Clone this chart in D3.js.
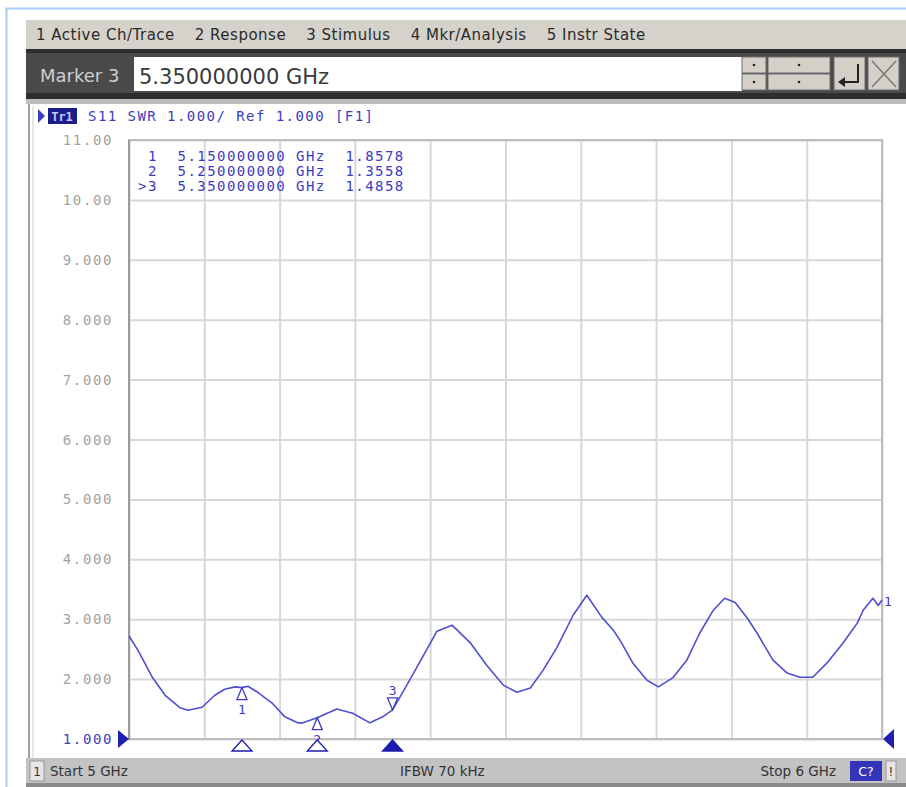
<!DOCTYPE html>
<html>
<head>
<meta charset="utf-8">
<script src="https://cdn.jsdelivr.net/npm/d3@7"></script>
<style>
  body { margin: 0; background: #fff; }
  svg { display: block; }
  .mono { font-family: "DejaVu Sans Mono", monospace; white-space: pre; }
  .ui { font-family: "DejaVu Sans", sans-serif; }
</style>
</head>
<body>
<div id="chart"></div>
<script>
// ---- data ----
var menuItems = ["1 Active Ch/Trace", "2 Response", "3 Stimulus", "4 Mkr/Analysis", "5 Instr State"];
var entryLabel = "Marker 3";
var entryValue = "5.350000000 GHz";
var traceHeader = "S11 SWR 1.000/ Ref 1.000 [F1]";

// frequency (GHz) and SWR of trace S11
var freqGHz = [5.000, 5.012, 5.031, 5.048, 5.068, 5.078, 5.097, 5.114, 5.127, 5.141, 5.150, 5.158, 5.171, 5.190, 5.207,
               5.224, 5.231, 5.250, 5.276, 5.297, 5.320, 5.337, 5.350, 5.369, 5.390, 5.409, 5.429, 5.453, 5.475, 5.497,
               5.515, 5.533, 5.550, 5.568, 5.590, 5.608, 5.628, 5.643, 5.652, 5.669, 5.688, 5.703, 5.722, 5.741, 5.758,
               5.776, 5.791, 5.805, 5.821, 5.834, 5.855, 5.874, 5.891, 5.908, 5.927, 5.948, 5.967, 5.975, 5.988, 5.995, 6.000];
var swr =     [2.72, 2.48, 2.03, 1.73, 1.52, 1.48, 1.53, 1.73, 1.83, 1.87, 1.858, 1.88, 1.78, 1.60, 1.37,
               1.27, 1.27, 1.356, 1.50, 1.43, 1.27, 1.37, 1.486, 1.90, 2.37, 2.80, 2.90, 2.61, 2.23, 1.90,
               1.78, 1.85, 2.15, 2.52, 3.07, 3.40, 3.03, 2.82, 2.65, 2.27, 1.98, 1.87, 2.02, 2.32, 2.77,
               3.15, 3.35, 3.28, 3.02, 2.77, 2.32, 2.10, 2.03, 2.03, 2.27, 2.60, 2.93, 3.15, 3.35, 3.23, 3.32];

var yTicks = [1, 2, 3, 4, 5, 6, 7, 8, 9, 10, 11];
var xTicks = [5.0, 5.1, 5.2, 5.3, 5.4, 5.5, 5.6, 5.7, 5.8, 5.9, 6.0];

var markerNum  = [1, 2, 3];
var markerFreq = [5.15, 5.25, 5.35];
var markerVal  = [1.8578, 1.3558, 1.4858];
var activeMarker = 3;

var statusLeft = "Start 5 GHz";
var statusMid = "IFBW 70 kHz";
var statusRight = "Stop 6 GHz";

// ---- layout ----
var W = 906, H = 787;
var plot = {left: 129, right: 882, top: 140, bottom: 739};
var blue = "#3c3cc0", traceBlue = "#4f4fd2";

var svg = d3.select("#chart").append("svg").attr("width", W).attr("height", H);

var x = d3.scaleLinear().domain([5, 6]).range([plot.left, plot.right]);
var y = d3.scaleLinear().domain([1, 11]).range([plot.bottom, plot.top]);

// outer window frame
svg.append("path").attr("d", "M6.5," + H + "V8.5H" + W)
   .attr("fill", "none").attr("stroke", "#a6cdf6").attr("stroke-width", 2);

// menu bar
svg.append("rect").attr("x", 26).attr("y", 20).attr("width", W - 26).attr("height", 29).attr("fill", "#d5d2cb");
var mx = 36;
menuItems.forEach(function(m) {
  var t = svg.append("text").attr("class", "ui").attr("x", mx).attr("y", 40)
    .attr("font-size", 15).attr("letter-spacing", 0.5).attr("fill", "#2a2a2a").text(m);
  mx += t.node().getComputedTextLength() + 20;
});

// entry bar
svg.append("rect").attr("x", 26).attr("y", 49).attr("width", W - 26).attr("height", 52).attr("fill", "#4a4a4a");
svg.append("rect").attr("x", 26).attr("y", 49).attr("width", W - 26).attr("height", 4).attr("fill", "#2e2e2e");
svg.append("rect").attr("x", 26).attr("y", 93).attr("width", W - 26).attr("height", 6).attr("fill", "#2e2e2e");
svg.append("rect").attr("x", 26).attr("y", 99).attr("width", W - 26).attr("height", 5).attr("fill", "#bdbdbd");
svg.append("text").attr("class", "ui").attr("x", 40).attr("y", 82)
   .attr("font-size", 18).attr("fill", "#cfcfcf").text(entryLabel);
svg.append("rect").attr("x", 134).attr("y", 57).attr("width", 608).attr("height", 34).attr("fill", "#fff");
svg.append("text").attr("class", "ui").attr("x", 139).attr("y", 84)
   .attr("font-size", 21).attr("fill", "#3a3a3a").text(entryValue);

// spin / enter / cancel buttons
var btns = [[742, 24], [768, 62], [834, 31], [868, 31]];
btns.forEach(function(b, i) {
  var g = svg.append("g");
  if (i < 2) {
    [57, 74].forEach(function(by) {
      g.append("rect").attr("x", b[0]).attr("y", by).attr("width", b[1]).attr("height", 16)
        .attr("fill", "#d4d0c8").attr("stroke", "#6a6a6a");
      g.append("circle").attr("cx", b[0] + b[1] / 2).attr("cy", by + 8).attr("r", 1.3).attr("fill", "#222");
    });
  } else {
    g.append("rect").attr("x", b[0]).attr("y", 57).attr("width", b[1]).attr("height", 33)
      .attr("fill", "#d4d0c8").attr("stroke", "#6a6a6a");
  }
});
svg.append("path").attr("d", "M858,64V82H841").attr("fill", "none").attr("stroke", "#222").attr("stroke-width", 2);
svg.append("path").attr("d", "M838,82l7,-5v10z").attr("fill", "#222");
svg.append("path").attr("d", "M872,61L896,87M896,61L872,87").attr("stroke", "#777").attr("stroke-width", 1.5);

// chart panel
svg.append("rect").attr("x", 26).attr("y", 104).attr("width", W - 26).attr("height", 654).attr("fill", "#fff");
svg.append("line").attr("x1", 29).attr("x2", 29).attr("y1", 104).attr("y2", 758).attr("stroke", "#a0a0a0").attr("stroke-width", 2);
svg.append("line").attr("x1", 33).attr("x2", 33).attr("y1", 106).attr("y2", 758).attr("stroke", "#d0d0d0").attr("stroke-width", 1);

// trace header
svg.append("path").attr("d", "M38,109L45,116L38,123Z").attr("fill", blue);
svg.append("rect").attr("x", 48).attr("y", 108).attr("width", 29).attr("height", 16).attr("fill", "#1c1c8c");
svg.append("text").attr("class", "mono").attr("x", 62).attr("y", 121).attr("text-anchor", "middle")
   .attr("font-size", 12).attr("font-weight", "bold").attr("fill", "#c8c8ff").text("Tr1");
svg.append("text").attr("class", "mono").attr("x", 88).attr("y", 121)
   .attr("font-size", 14).attr("letter-spacing", 1.45).attr("fill", blue).text(traceHeader);

// grid
var gy = svg.append("g").attr("transform", "translate(" + plot.left + ",0)")
  .call(d3.axisLeft(y).tickValues(yTicks).tickSize(-(plot.right - plot.left)).tickFormat(""));
var gx = svg.append("g").attr("transform", "translate(0," + plot.bottom + ")")
  .call(d3.axisBottom(x).tickValues(xTicks).tickSize(-(plot.bottom - plot.top)).tickFormat(""));
[gx, gy].forEach(function(g) {
  g.select(".domain").remove();
  g.selectAll("line").attr("stroke", "#d8d8d8").attr("stroke-width", 2);
});
svg.append("rect").attr("x", plot.left).attr("y", plot.top).attr("width", plot.right - plot.left)
   .attr("height", plot.bottom - plot.top).attr("fill", "none").attr("stroke", "#bdbdbd").attr("stroke-width", 2);
svg.append("line").attr("x1", plot.left).attr("x2", plot.left).attr("y1", plot.top).attr("y2", plot.bottom + 1)
   .attr("stroke", "#9a9a9a").attr("stroke-width", 2);

// y tick labels
var fmt = d3.format(".4r");
svg.selectAll(".ylab").data(yTicks).enter().append("text")
   .attr("class", "mono ylab").attr("x", 113).attr("y", function(d) { return y(d) + 5; })
   .attr("text-anchor", "end").attr("font-size", 14).attr("letter-spacing", 1.6)
   .attr("fill", function(d) { return d === 1 ? blue : "#a2a2a2"; })
   .text(function(d) { return fmt(d); });

// reference level arrows
svg.append("path").attr("d", "M118," + (y(1) - 9) + "L129," + y(1) + "L118," + (y(1) + 9) + "Z").attr("fill", "#2020b0");
svg.append("path").attr("d", "M894," + (y(1) - 10) + "L883," + y(1) + "L894," + (y(1) + 10) + "Z").attr("fill", "#2020b0");

// trace
var data = freqGHz.map(function(f, i) { return {f: f, v: swr[i]}; });
var line = d3.line().x(function(d) { return x(d.f); }).y(function(d) { return y(d.v); });
svg.append("path").datum(data).attr("d", line)
   .attr("fill", "none").attr("stroke", traceBlue).attr("stroke-width", 1.6).attr("stroke-linejoin", "round");
svg.append("text").attr("class", "mono").attr("x", x(6) + 2).attr("y", y(swr[swr.length - 1]) + 6)
   .attr("font-size", 13).attr("fill", blue).text("1");

// marker readout
var ffmt = d3.format(".9f"), vfmt = d3.format(".4f");
markerNum.forEach(function(n, i) {
  var s = (n === activeMarker ? ">" : " ") + n + "  " + ffmt(markerFreq[i]) + " GHz  " + vfmt(markerVal[i]);
  svg.append("text").attr("class", "mono").attr("x", 138).attr("y", 161 + i * 15)
     .attr("font-size", 14).attr("letter-spacing", 1.45).attr("fill", blue).text(s);
});

// markers on trace and stimulus-axis flags
markerNum.forEach(function(n, i) {
  var mxp = x(markerFreq[i]), myp = y(markerVal[i]);
  var active = n === activeMarker;
  var g = svg.append("g").attr("fill", "none").attr("stroke", blue).attr("stroke-width", 1.3);
  if (active) {
    g.append("path").attr("d", "M" + mxp + "," + myp + "l-5,-12h10z");
    svg.append("text").attr("class", "mono").attr("x", mxp).attr("y", myp - 15).attr("text-anchor", "middle")
       .attr("font-size", 13).attr("fill", blue).text(n);
  } else {
    g.append("path").attr("d", "M" + mxp + "," + myp + "l-5,12h10z");
    svg.append("text").attr("class", "mono").attr("x", mxp).attr("y", myp + 26).attr("text-anchor", "middle")
       .attr("font-size", 13).attr("fill", blue).text(n);
  }
  svg.append("path").attr("d", "M" + mxp + "," + (plot.bottom + 1) + "l-10,11h20z")
     .attr("fill", active ? "#1c1cb0" : "#fff").attr("stroke", "#1c1cb0").attr("stroke-width", 1.3);
});

// status bar
svg.append("rect").attr("x", 26).attr("y", 758).attr("width", W - 26).attr("height", 26).attr("fill", "#c3c3c3");
svg.append("rect").attr("x", 26).attr("y", 783).attr("width", W - 26).attr("height", 4).attr("fill", "#8a8a8a");
svg.append("rect").attr("x", 30).attr("y", 761).attr("width", 14).attr("height", 20).attr("fill", "#e6e6e6").attr("stroke", "#999");
svg.append("text").attr("class", "ui").attr("x", 37).attr("y", 776).attr("text-anchor", "middle")
   .attr("font-size", 12).attr("fill", "#333").text("1");
svg.append("text").attr("class", "ui").attr("x", 50).attr("y", 776).attr("font-size", 13.5).attr("fill", "#333").text(statusLeft);
svg.append("text").attr("class", "ui").attr("x", 400).attr("y", 776).attr("font-size", 13.5).attr("fill", "#333").text(statusMid);
svg.append("text").attr("class", "ui").attr("x", 836).attr("y", 776).attr("text-anchor", "end")
   .attr("font-size", 13.5).attr("fill", "#333").text(statusRight);
svg.append("rect").attr("x", 850).attr("y", 761).attr("width", 32).attr("height", 20).attr("fill", "#3434b8");
svg.append("text").attr("class", "ui").attr("x", 866).attr("y", 776).attr("text-anchor", "middle")
   .attr("font-size", 12.5).attr("fill", "#fff").text("C?");
svg.append("rect").attr("x", 886).attr("y", 761).attr("width", 10).attr("height", 20).attr("fill", "#e6e6e6").attr("stroke", "#999");
svg.append("text").attr("class", "ui").attr("x", 891).attr("y", 776).attr("text-anchor", "middle")
   .attr("font-size", 12).attr("fill", "#333").text("!");
</script>
</body>
</html>
